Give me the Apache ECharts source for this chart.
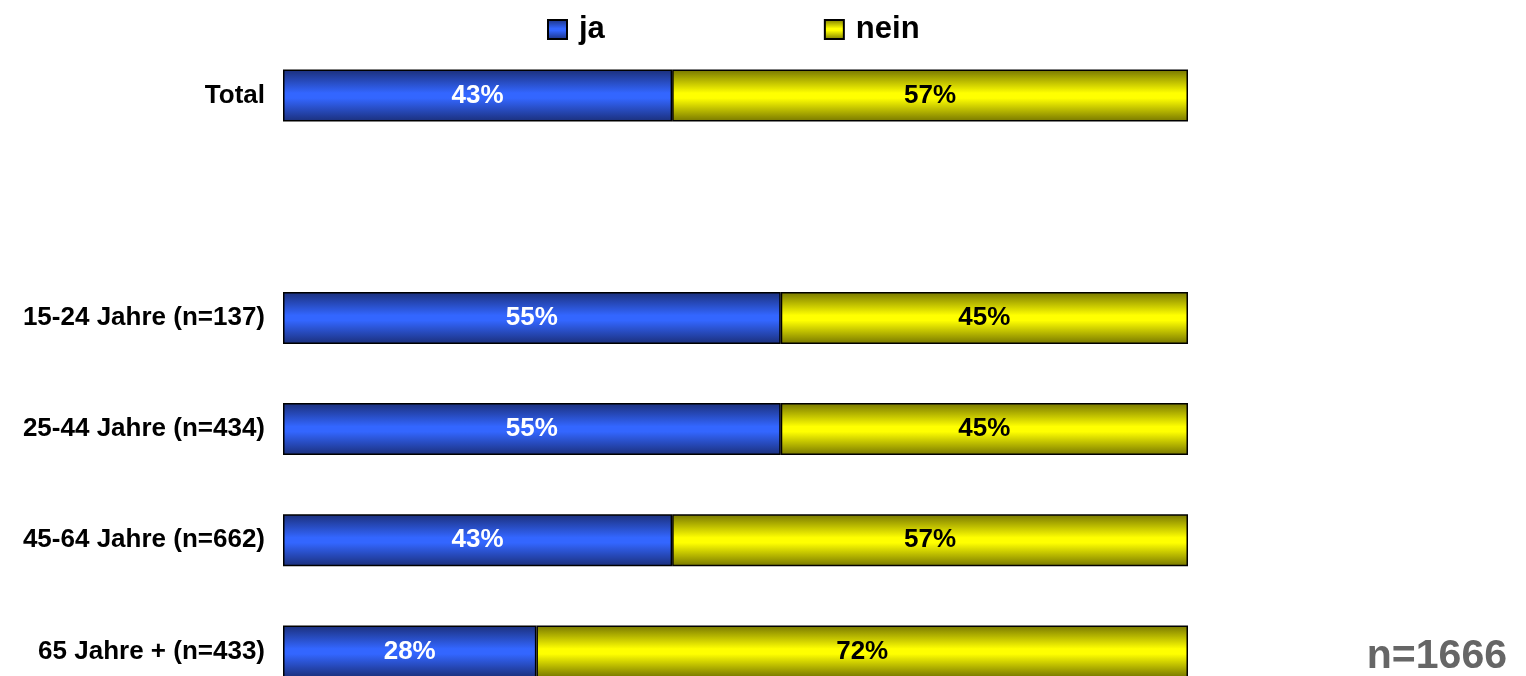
<!DOCTYPE html>
<html>
<head>
<meta charset="utf-8">
<script src="https://cdn.jsdelivr.net/npm/echarts@6/dist/echarts.min.js"></script>
<style>
  html, body { margin: 0; padding: 0; background: #ffffff; }
  #chart { width: 1526px; height: 676px; }
</style>
</head>
<body>
<div id="chart"></div>
<script>
// Age groups (an empty slot separates the total from the breakdown)
const categories = ['Total', '', '15-24 Jahre (n=137)', '25-44 Jahre (n=434)', '45-64 Jahre (n=662)', '65 Jahre + (n=433)'];
const jaValues   = [43, null, 55, 55, 43, 28];
const neinValues = [57, null, 45, 45, 57, 72];
const seriesNames = ['ja', 'nein'];
const sampleNote = 'n=1666';

function bandGradient(edge, mid) {
  return new echarts.graphic.LinearGradient(0, 0, 0, 1, [
    { offset: 0, color: edge },
    { offset: 0.45, color: mid },
    { offset: 0.55, color: mid },
    { offset: 1, color: edge }
  ]);
}

const font = "'Liberation Sans', Arial, Helvetica, sans-serif";
const chart = echarts.init(document.getElementById('chart'), null, { renderer: 'canvas' });

chart.setOption({
  animation: false,
  backgroundColor: '#ffffff',
  legend: {
    data: seriesNames,
    icon: 'rect',
    left: 547,
    top: 14,
    padding: 0,
    itemWidth: 19,
    itemHeight: 19,
    itemGap: 219,
    textStyle: { fontFamily: font, fontSize: 31, fontWeight: 'bold', color: '#000000', padding: [0, 0, 0, 7] }
  },
  // the last band runs past the lower edge of the canvas
  grid: { left: 283, right: 338, top: 40, height: 667, containLabel: false, outerBoundsMode: 'none' },
  xAxis: {
    type: 'value', min: 0, max: 100, show: false
  },
  yAxis: {
    type: 'category',
    data: categories,
    inverse: true,
    axisLine: { show: false },
    axisTick: { show: false },
    axisLabel: {
      fontFamily: font, fontSize: 26, fontWeight: 'bold', color: '#000000', margin: 18
    }
  },
  series: [
    {
      name: seriesNames[0], type: 'bar', stack: 'all', barWidth: 52,
      data: jaValues,
      itemStyle: { color: bandGradient('#1b2f7a', '#3366ff'), borderColor: '#000000', borderWidth: 1.5 },
      label: {
        show: true, position: 'inside', formatter: p => p.value + '%',
        fontFamily: font, fontSize: 26, fontWeight: 'bold', color: '#ffffff'
      }
    },
    {
      name: seriesNames[1], type: 'bar', stack: 'all', barWidth: 52,
      data: neinValues,
      itemStyle: { color: bandGradient('#767600', '#ffff00'), borderColor: '#000000', borderWidth: 1.5 },
      label: {
        show: true, position: 'inside', formatter: p => p.value + '%',
        fontFamily: font, fontSize: 26, fontWeight: 'bold', color: '#000000'
      }
    }
  ],
  graphic: [
    {
      type: 'text', right: 19, top: 636,
      style: { text: sampleNote, fontFamily: font, fontSize: 41, fontWeight: 'bold', fill: '#666666' }
    }
  ]
});
</script>
</body>
</html>
